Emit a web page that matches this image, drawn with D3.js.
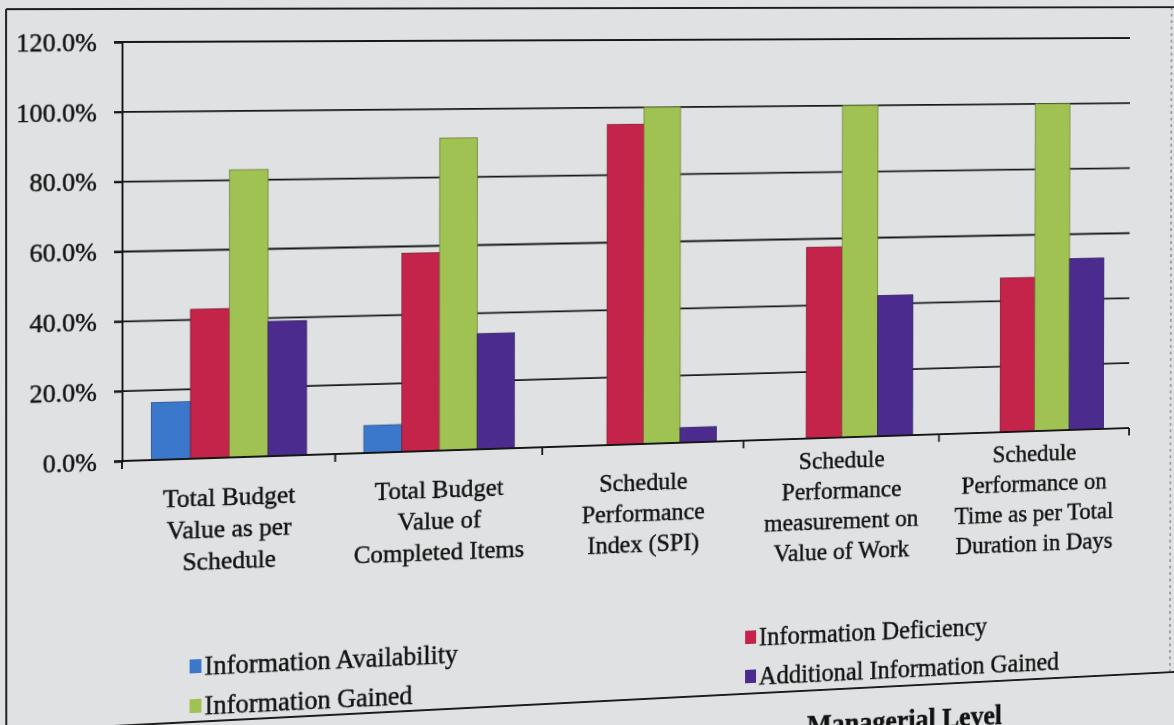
<!DOCTYPE html>
<html>
<head>
<meta charset="utf-8">
<script src="https://cdn.jsdelivr.net/npm/d3@7"></script>
<style>
  html, body { margin: 0; padding: 0; overflow: hidden; width: 1174px; height: 725px; background: #dfe1e2; }
  #chart { position: absolute; left: 0; top: 0; transform-origin: 0 0; }
  text { font-family: "Liberation Serif", "Times New Roman", serif; fill: #121212; stroke: #121212; stroke-width: 0.45px; }
</style>
</head>
<body>
<div id="chart"></div>
<script>
// category labels, one array of lines per category
var categories = [
  ["Total Budget", "Value as per", "Schedule"],
  ["Total Budget", "Value of", "Completed Items"],
  ["Schedule", "Performance", "Index (SPI)"],
  ["Schedule", "Performance", "measurement on", "Value of Work"],
  ["Schedule", "Performance on", "Time as per Total", "Duration in Days"]
];
var seriesNames = ["Information Availability", "Information Deficiency", "Information Gained", "Additional Information Gained"];

// values in percent
var availability = [16.5, 8, 0, 0, 0];
var deficiency = [43, 58, 95, 57.5, 47];
var gained = [83, 91.5, 100, 100, 100];
var additional = [39, 34, 4.5, 42.5, 52.5];

var yTicks = [0, 20, 40, 60, 80, 100, 120];

var colors = {
  'Information Availability': '#3b78cc',
  'Information Deficiency': '#c4234a',
  'Information Gained': '#9fc253',
  'Additional Information Gained': '#4b2c8e'
};

// flat layout (the page photo is warped afterwards)
var W = 1270, H = 780;
var margin = { top: 42, left: 122, right: 1205, bottom: 461 };

var seriesValues = [availability, deficiency, gained, additional];
var rows = categories.map(function(c, i) {
  var r = { idx: i };
  seriesNames.forEach(function(s, j) { r[s] = seriesValues[j][i]; });
  return r;
});

var svg = d3.select("#chart").append("svg")
  .attr("width", W)
  .attr("height", H);

var x0 = d3.scaleBand()
  .domain(d3.range(categories.length))
  .range([margin.left, margin.right])
  .padding(0);

// excel style gap width 150%
var x1 = d3.scaleBand()
  .domain(seriesNames)
  .range([0, x0.bandwidth()])
  .paddingInner(0)
  .paddingOuter(0.75);

var y = d3.scaleLinear()
  .domain([0, 120])
  .range([margin.bottom, margin.top]);

// page frame
svg.append("path")
  .attr("d", "M7,9 H" + W + " M7,9 V726 H" + W)
  .attr("fill", "none")
  .attr("stroke", "#1c1c1c")
  .attr("stroke-width", 1.9);
svg.append("line")
  .attr("x1", 1253).attr("x2", 1253)
  .attr("y1", 9).attr("y2", 726)
  .attr("stroke", "#555")
  .attr("stroke-width", 1)
  .attr("stroke-dasharray", "3,4");

// gridlines
svg.append("g")
  .selectAll("line")
  .data(yTicks)
  .enter().append("line")
  .attr("x1", margin.left - 8)
  .attr("x2", margin.right)
  .attr("y1", function(d) { return y(d); })
  .attr("y2", function(d) { return y(d); })
  .attr("stroke", "#161616")
  .attr("stroke-width", 1.9);

// y axis
var yAxis = svg.append("g")
  .attr("transform", "translate(" + margin.left + ",0)")
  .call(d3.axisLeft(y).tickValues(yTicks).tickSize(8).tickPadding(17)
    .tickFormat(function(d) { return d.toFixed(1) + "%"; }));
yAxis.select(".domain").attr("stroke", "#161616").attr("stroke-width", 1.9);
yAxis.selectAll(".tick line").attr("stroke", "#161616").attr("stroke-width", 1.9);
yAxis.selectAll("text")
  .style("font-family", "'Liberation Serif', serif")
  .style("font-size", "26px")
  .attr("fill", "#121212");

// bars
svg.append("g")
  .selectAll("g")
  .data(rows)
  .enter().append("g")
  .attr("transform", function(d) { return "translate(" + x0(d.idx) + ",0)"; })
  .selectAll("rect")
  .data(function(d) { return seriesNames.map(function(s) { return { key: s, value: d[s] }; }); })
  .enter().append("rect")
  .attr("x", function(d) { return x1(d.key); })
  .attr("width", x1.bandwidth())
  .attr("y", function(d) { return y(d.value); })
  .attr("height", function(d) { return y(0) - y(d.value); })
  .style("fill", function(d) { return colors[d.key]; })
  .style("stroke", function(d) { return d.value > 0 ? d3.color(colors[d.key]).darker(1.2) : "none"; })
  .style("stroke-width", 0.8);

// x axis
var xAxis = svg.append("g")
  .attr("transform", "translate(0," + y(0) + ")");
xAxis.append("line")
  .attr("x1", margin.left).attr("x2", margin.right)
  .attr("stroke", "#161616").attr("stroke-width", 1.9);
xAxis.selectAll(".tk")
  .data(d3.range(categories.length + 1))
  .enter().append("line")
  .attr("class", "tk")
  .attr("x1", function(d) { return margin.left + d * x0.step(); })
  .attr("x2", function(d) { return margin.left + d * x0.step(); })
  .attr("y1", 0).attr("y2", 8)
  .attr("stroke", "#161616").attr("stroke-width", 1.9);

// category labels, vertically centred under the axis
var lineH = 32, labelMid = 532;
svg.append("g")
  .selectAll("text")
  .data(rows)
  .enter().append("text")
  .attr("text-anchor", "middle")
  .style("font-size", "26px")
  .each(function(d) {
    var lines = categories[d.idx];
    var first = labelMid - (lines.length - 1) * lineH / 2;
    d3.select(this).selectAll("tspan")
      .data(lines)
      .enter().append("tspan")
      .attr("x", x0(d.idx) + x0.bandwidth() / 2)
      .attr("y", function(l, i) { return first + i * lineH; })
      .attr("dy", "0.35em")
      .text(function(l) { return l; });
  });

// legend, two columns
var legendPos = [
  { x: 205, y: 679 },
  { x: 789, y: 676 },
  { x: 205, y: 719 },
  { x: 789, y: 717 }
];
var legend = svg.append("g")
  .selectAll("g")
  .data(seriesNames)
  .enter().append("g")
  .attr("transform", function(d, i) { return "translate(" + legendPos[i].x + "," + legendPos[i].y + ")"; });
legend.append("rect")
  .attr("x", -15).attr("y", -16)
  .attr("width", 12).attr("height", 14)
  .style("fill", function(d) { return colors[d]; });
legend.append("text")
  .style("font-size", "27px")
  .text(function(d) { return d; });

// bit of the page caption below the frame
svg.append("text")
  .attr("x", 842).attr("y", 772)
  .style("font-size", "29px")
  .style("font-weight", "bold")
  .text("Managerial Level");

// warp the flat chart to the photo's perspective (homography from 4 corners)
function homography(src, dst) {
  var A = [], b = [];
  for (var i = 0; i < 4; i++) {
    var sx = src[i][0], sy = src[i][1], dx = dst[i][0], dy = dst[i][1];
    A.push([sx, sy, 1, 0, 0, 0, -sx * dx, -sy * dx]); b.push(dx);
    A.push([0, 0, 0, sx, sy, 1, -sx * dy, -sy * dy]); b.push(dy);
  }
  var n = 8;
  for (var c = 0; c < n; c++) {
    var p = c;
    for (var r = c + 1; r < n; r++) if (Math.abs(A[r][c]) > Math.abs(A[p][c])) p = r;
    var t = A[c]; A[c] = A[p]; A[p] = t;
    var tb = b[c]; b[c] = b[p]; b[p] = tb;
    for (var r2 = 0; r2 < n; r2++) {
      if (r2 === c) continue;
      var f = A[r2][c] / A[c][c];
      for (var k = c; k < n; k++) A[r2][k] -= f * A[c][k];
      b[r2] -= f * b[c];
    }
  }
  return b.map(function(v, i) { return v / A[i][i]; });
}

var h = homography(
  [[122, 42], [1205, 42], [122, 461], [1205, 461]],
  [[122, 42], [1130, 38], [122, 461], [1129, 428]]
);
d3.select("#chart").style("transform",
  "matrix3d(" + [h[0], h[3], 0, h[6], h[1], h[4], 0, h[7], 0, 0, 1, 0, h[2], h[5], 0, 1].join(",") + ")");
</script>
</body>
</html>
